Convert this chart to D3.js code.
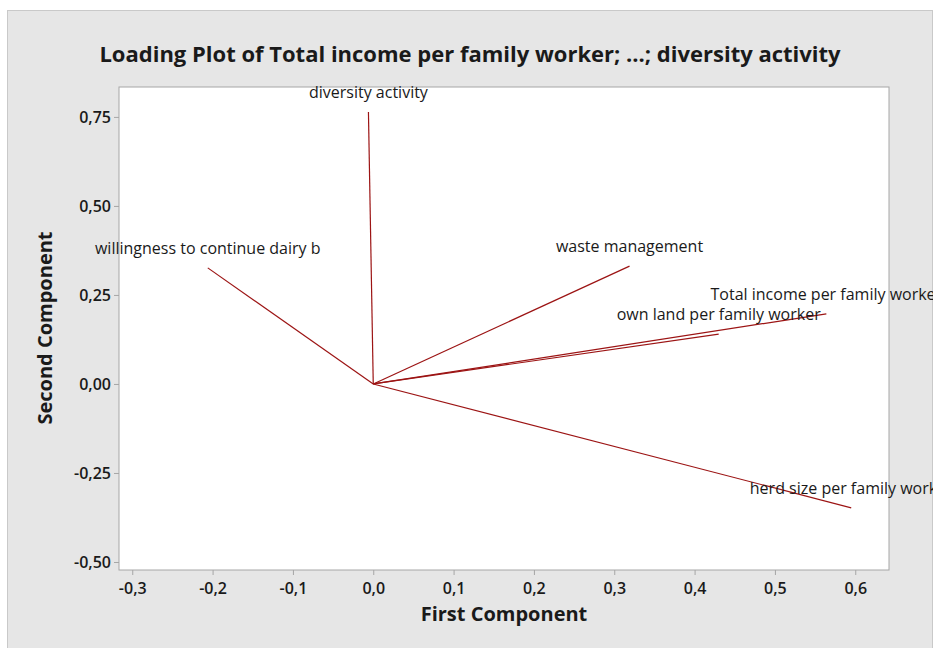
<!DOCTYPE html>
<html>
<head>
<meta charset="utf-8">
<script src="https://cdn.jsdelivr.net/npm/d3@7"></script>
<style>
  body { margin: 0; background: #fff; }
  text { font-family: "Open Sans", "Noto Sans", sans-serif; }
</style>
</head>
<body>
<script>
// variable names and loadings (PC1, PC2)
const variables = [
  "diversity activity",
  "willingness to continue dairy b",
  "waste management",
  "Total income per family worker",
  "own land per family worker",
  "herd size per family worker"
];
const pc1 = [-0.006, -0.206, 0.319, 0.564, 0.430, 0.595];
const pc2 = [0.764, 0.326, 0.331, 0.197, 0.140, -0.348];

const xTicks = [-0.3, -0.2, -0.1, 0.0, 0.1, 0.2, 0.3, 0.4, 0.5, 0.6];
const yTicks = [-0.5, -0.25, 0, 0.25, 0.5, 0.75];

const width = 937, height = 648;
const plot = {left: 119, top: 87, right: 889, bottom: 570};

const loc = d3.formatLocale({decimal: ",", thousands: ".", grouping: [3], currency: ["", ""], minus: "-"});

const svg = d3.select("body").append("svg")
  .attr("width", width)
  .attr("height", height);

// gray panel
svg.append("rect")
  .attr("x", 7.5).attr("y", 10.5)
  .attr("width", 925).attr("height", 660)
  .style("fill", "#e6e6e6")
  .style("stroke", "#c9c9c9");

svg.append("clipPath").attr("id", "panel")
  .append("rect").attr("x", 8).attr("y", 11).attr("width", 925).attr("height", 660);

const x = d3.scaleLinear().domain([-0.3165, 0.642]).range([plot.left, plot.right]);
const y = d3.scaleLinear().domain([-0.5225, 0.834]).range([plot.bottom, plot.top]);

svg.append("rect")
  .attr("x", plot.left).attr("y", plot.top)
  .attr("width", plot.right - plot.left).attr("height", plot.bottom - plot.top)
  .style("fill", "#fff")
  .style("stroke", "#a6a6a6");

const xAxis = svg.append("g")
  .attr("transform", `translate(0,${plot.bottom})`)
  .call(d3.axisBottom(x).tickValues(xTicks).tickFormat(loc.format(".1f")).tickSize(5).tickSizeOuter(0));
const yAxis = svg.append("g")
  .attr("transform", `translate(${plot.left},0)`)
  .call(d3.axisLeft(y).tickValues(yTicks).tickFormat(loc.format(".2f")).tickSize(5).tickSizeOuter(0));

[xAxis, yAxis].forEach(a => {
  a.select(".domain").remove();
  a.selectAll(".tick line").style("stroke", "#a6a6a6");
  a.selectAll(".tick text")
    .style("font-size", "16px")
    .style("font-weight", 600)
    .style("fill", "#1a1a1a");
});
xAxis.selectAll(".tick text").attr("dy", "1.0em");
yAxis.selectAll(".tick text").attr("x", -8);

// loading vectors
const g = svg.append("g").attr("clip-path", "url(#panel)");

g.selectAll("line.vec")
  .data(variables)
  .join("line")
  .attr("class", "vec")
  .attr("x1", x(0)).attr("y1", y(0))
  .attr("x2", (d, i) => x(pc1[i]))
  .attr("y2", (d, i) => y(pc2[i]))
  .style("stroke", "#9c1414")
  .style("stroke-width", 1.2);

g.selectAll("text.lbl")
  .data(variables)
  .join("text")
  .attr("class", "lbl")
  .attr("x", (d, i) => x(pc1[i]))
  .attr("y", (d, i) => y(pc2[i]) - 14)
  .attr("text-anchor", "middle")
  .style("font-size", "16px")
  .style("fill", "#1a1a1a")
  .text(d => d);

// titles
svg.append("text")
  .attr("x", 470).attr("y", 62)
  .attr("text-anchor", "middle")
  .style("font-size", "22px")
  .style("font-weight", 700)
  .style("fill", "#1a1a1a")
  .text("Loading Plot of Total income per family worker; ...; diversity activity");

svg.append("text")
  .attr("x", 504).attr("y", 621)
  .attr("text-anchor", "middle")
  .style("font-size", "20px")
  .style("font-weight", 700)
  .style("fill", "#1a1a1a")
  .text("First Component");

svg.append("text")
  .attr("transform", "translate(52,328) rotate(-90)")
  .attr("text-anchor", "middle")
  .style("font-size", "20px")
  .style("font-weight", 700)
  .style("fill", "#1a1a1a")
  .text("Second Component");
</script>
</body>
</html>
